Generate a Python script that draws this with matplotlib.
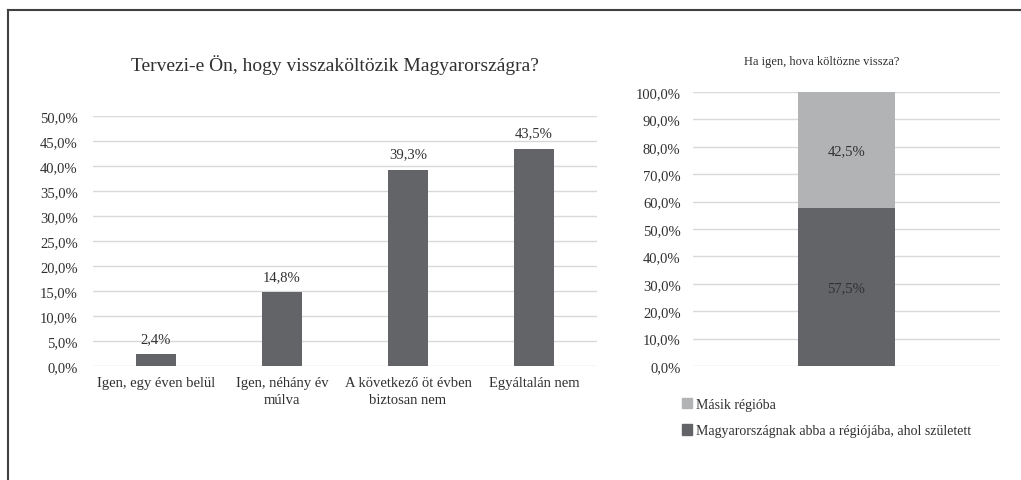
import matplotlib.pyplot as plt
from matplotlib.patches import Patch
from matplotlib.ticker import FuncFormatter, MultipleLocator

plt.rcParams['font.family'] = ['Liberation Serif', 'DejaVu Serif']

# left chart data
categories = ["Igen, egy éven belül", "Igen, néhány év\nmúlva",
              "A következő öt évben\nbiztosan nem", "Egyáltalán nem"]
plan_values = [2.4, 14.8, 39.3, 43.5]

# right chart data
region_labels = ["Magyarországnak abba a régiójába, ahol született", "Másik régióba"]
region_values = [57.5, 42.5]

DARK = "#636468"
LIGHT = "#b2b3b5"
GRID = "#d9d9d9"
TXT = "#303030"

W, H = 1021, 481
fig = plt.figure(figsize=(W / 100, H / 100), dpi=100)


def px_axes(x0, y0, x1, y1):
    return fig.add_axes([x0 / W, 1 - y1 / H, (x1 - x0) / W, (y1 - y0) / H])


def pct(v, pos):
    return f"{v:.1f}%".replace(".", ",")


# frame lines (top and left)
fig.add_artist(plt.Line2D([8 / W, 1], [1 - 11 / H, 1 - 11 / H], color="#404040", lw=1.5))
fig.add_artist(plt.Line2D([8 / W, 8 / W], [0, 1 - 11 / H], color="#404040", lw=1.5))

# ---- left chart
ax1 = px_axes(93, 117, 597, 367)
x = range(len(categories))
ax1.bar(x, plan_values, width=0.31, color=DARK, zorder=3)
for xi, v in zip(x, plan_values):
    ax1.text(xi, v + 1.8, f"{v:.1f}%".replace(".", ","), ha="center", va="bottom",
             fontsize=10.5, color=TXT, clip_on=False)
ax1.set_xlim(-0.5, len(categories) - 0.5)
ax1.set_ylim(0, 50)
ax1.yaxis.set_major_locator(MultipleLocator(5))
ax1.yaxis.set_major_formatter(FuncFormatter(pct))
ax1.set_xticks(list(x))
ax1.set_xticklabels(categories, fontsize=10.5, color=TXT, linespacing=1.45)
ax1.tick_params(length=0, labelsize=10.5, labelcolor=TXT)
ax1.tick_params(axis="y", pad=11)
ax1.tick_params(axis="x", pad=7)
ax1.grid(axis="y", color=GRID, lw=1, zorder=0)
for s in ax1.spines.values():
    s.set_visible(False)
fig.text(335 / W, 1 - 65 / H, "Tervezi-e Ön, hogy visszaköltözik Magyarországra?",
         ha="center", va="center", fontsize=14, color=TXT)

# ---- right chart
ax2 = px_axes(693, 93, 1000, 367)
bottom = 0
handles = []
colors = [DARK, LIGHT]
for lab, v, c in zip(region_labels, region_values, colors):
    ax2.bar(0, v, bottom=bottom, width=0.316, color=c, zorder=3)
    ax2.text(0, bottom + v / 2, f"{v:.1f}%".replace(".", ","), ha="center", va="center",
             fontsize=10.5, color=TXT)
    handles.append(Patch(color=c, label=lab))
    bottom += v
ax2.set_xlim(-0.5, 0.5)
ax2.set_ylim(0, 100)
ax2.yaxis.set_major_locator(MultipleLocator(10))
ax2.yaxis.set_major_formatter(FuncFormatter(pct))
ax2.set_xticks([])
ax2.tick_params(length=0, labelsize=10.5, labelcolor=TXT, pad=9)
ax2.grid(axis="y", color=GRID, lw=1, zorder=0)
for s in ax2.spines.values():
    s.set_visible(False)
fig.text(822 / W, 1 - 62 / H, "Ha igen, hova költözne vissza?",
         ha="center", va="center", fontsize=9, color=TXT)

fig.legend(handles=handles[::-1], loc="upper left", bbox_to_anchor=(669 / W, 1 - 386 / H),
           frameon=False, fontsize=10, handlelength=0.75, handleheight=0.75,
           handletextpad=0.3, labelspacing=1.0, labelcolor=TXT)

fig.savefig("out.png", dpi=100)
